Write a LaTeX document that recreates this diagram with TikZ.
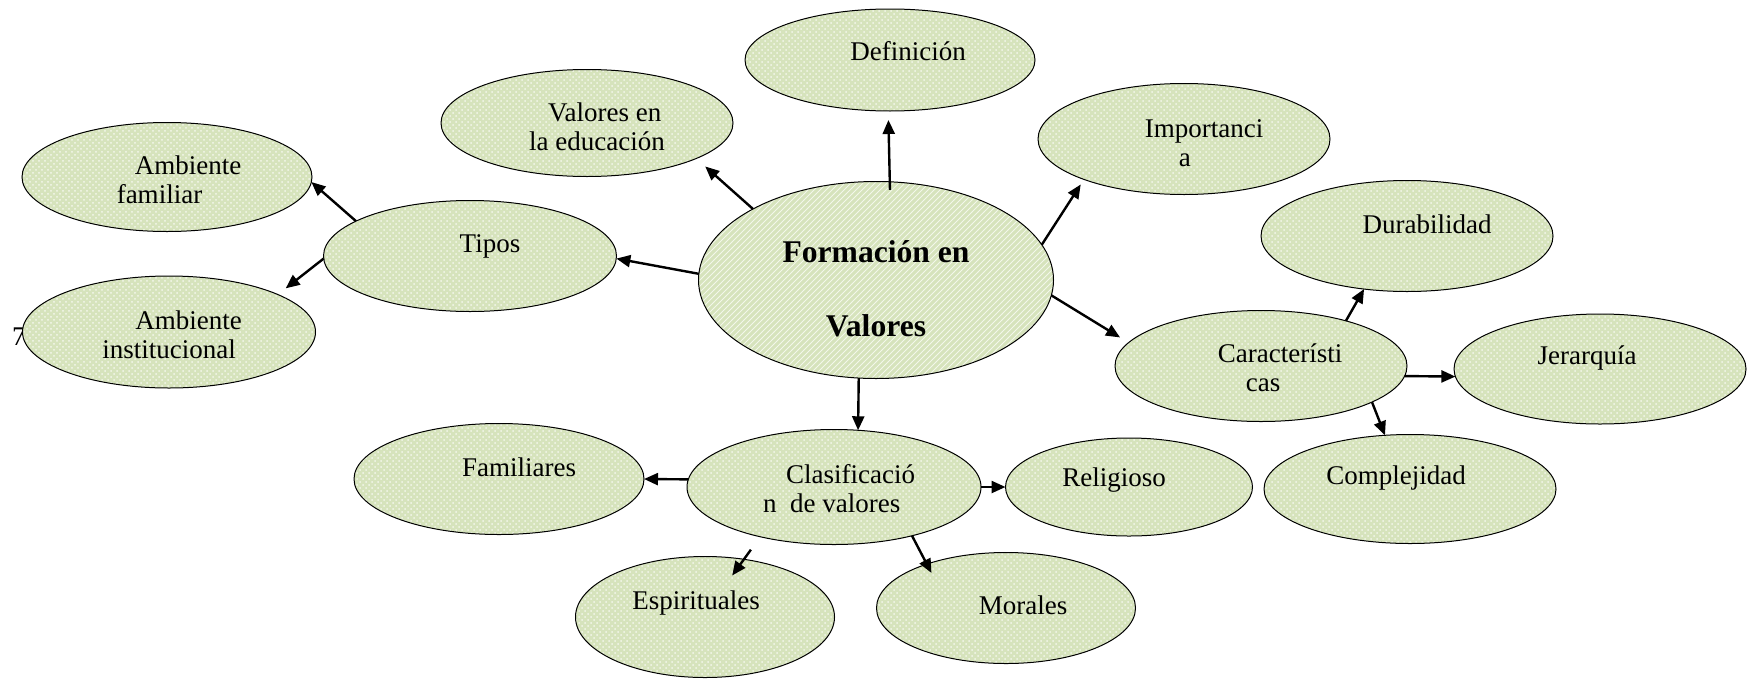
\documentclass[tikz,border=0pt]{standalone}
\usepackage{fontspec}
\setmainfont{Liberation Serif}
\usetikzlibrary{arrows.meta,patterns,shapes.geometric}

\definecolor{bubblefill}{RGB}{214,227,188}

\tikzset{
  bubble/.style={ellipse, draw, line width=0.5pt, inner sep=0pt, outer sep=0pt,
    preaction={fill=bubblefill}, pattern=crosshatch dots, pattern color=white!70!bubblefill},
  mainbubble/.style={bubble, pattern=north east lines, pattern color=white!70!bubblefill},
  arr/.style={-{Triangle[length=7pt,width=6pt]}, line width=1.2pt},
  ltext/.style={align=left}
}

\begin{document}
\begin{tikzpicture}[x=0.5pt, y=-0.5pt, font=\fontsize{13.5}{14.5}\selectfont]
\useasboundingbox (0,0) rectangle (1748,680);

\node (mark7) at (19,337) {7};

\node[bubble, minimum width=145pt, minimum height=51pt,
  label={[shift={(9pt,4.5pt)}]center:Definición}] (def) at (890,60) {};
\node[bubble, minimum width=146pt, minimum height=53.5pt,
  label={[ltext, shift={(5pt,-2pt)}]center:{\hspace{9.5pt}Valores en\\la educación}}] (valedu) at (587,123) {};
\node[bubble, minimum width=146pt, minimum height=55.5pt,
  label={[ltext, shift={(10pt,-2pt)}]center:{Importanci\\\hspace{17pt}a}}] (imp) at (1184,139) {};

\node[bubble, minimum width=145pt, minimum height=54.5pt,
  label={[ltext, shift={(6pt,-1.5pt)}]center:{\hspace{9pt}Ambiente\\familiar}}] (ambfam) at (167,177) {};
\node[bubble, minimum width=146.5pt, minimum height=55.5pt,
  label={[shift={(10pt,5pt)}]center:Tipos}] (tipos) at (470,256) {};
\node[bubble, minimum width=146.5pt, minimum height=56pt,
  label={[ltext, shift={(1.5pt,-1.5pt)}]center:{\hspace{16.5pt}Ambiente\\institucional}}] (ambinst) at (169,332) {};

\node[mainbubble, minimum width=177.5pt, minimum height=98.5pt,
  label={[align=center, shift={(0pt,-4.5pt)}, font=\fontsize{15.8}{37}\selectfont\bfseries]center:{Formación en\\Valores}}] (form) at (876,280) {};

\node[bubble, minimum width=146pt, minimum height=55.5pt,
  label={[shift={(10pt,6pt)}]center:Durabilidad}] (dur) at (1407,236) {};
\node[bubble, minimum width=146pt, minimum height=55.5pt,
  label={[ltext, shift={(9.5pt,-1pt)}]center:{Característi\\\hspace{14pt}cas}}] (car) at (1261,366) {};
\node[bubble, minimum width=146pt, minimum height=55pt,
  label={[shift={(-6.5pt,5.5pt)}]center:Jerarquía}] (jer) at (1600,369) {};
\node[bubble, minimum width=146pt, minimum height=54.5pt,
  label={[shift={(-7pt,5.5pt)}]center:Complejidad}] (comp) at (1410,489) {};

\node[bubble, minimum width=145pt, minimum height=55.5pt,
  label={[shift={(10pt,6pt)}]center:Familiares}] (fam) at (499,479) {};
\node[bubble, minimum width=147pt, minimum height=57.5pt,
  label={[ltext, shift={(2.5pt,-1pt)}]center:{\hspace{11.5pt}Clasificació\\n\ \ de valores}}] (clas) at (834,487) {};
\node[bubble, minimum width=123.5pt, minimum height=49pt,
  label={[shift={(-7.5pt,3.5pt)}]center:Religioso}] (rel) at (1129,487) {};
\node[bubble, minimum width=129.5pt, minimum height=60.5pt,
  label={[shift={(-4.5pt,7pt)}]center:Espirituales}] (esp) at (705,617) {};
\node[bubble, minimum width=129.5pt, minimum height=55.5pt,
  label={[shift={(8.5pt,1.5pt)}]center:Morales}] (mor) at (1006,608) {};

\draw[arr, shorten <=-4pt, shorten >=4.5pt] (form.82) -- (def.268);
\draw[arr, shorten >=6pt] (form.150) -- (valedu.-18);
\draw[arr, shorten >=3pt] (form.12) -- (imp.202);
\draw[arr] (form.178) -- (tipos.-1);
\draw[arr, shorten >=5pt] (form.-5) -- (car.170);
\draw[arr] (form.260) -- (clas.67);

\draw[arr] (tipos.163) -- (ambfam.-2);
\draw[arr, shorten >=5pt] (tipos.181) -- (ambinst.19);

\draw[arr] (car.28) -- (dur.231);
\draw[arr] (car.-4) -- (jer.183);
\draw[arr] (car.-18) -- (comp.115);

\draw[arr] (clas.177) -- (fam.0);
\draw[arr] (clas.0) -- (rel.180);
\draw[arr, shorten <=8pt, shorten >=-10pt] (clas.214) -- (esp.56);
\draw[arr, shorten >=-5pt] (clas.-32) -- (mor.151);
\end{tikzpicture}
\end{document}
